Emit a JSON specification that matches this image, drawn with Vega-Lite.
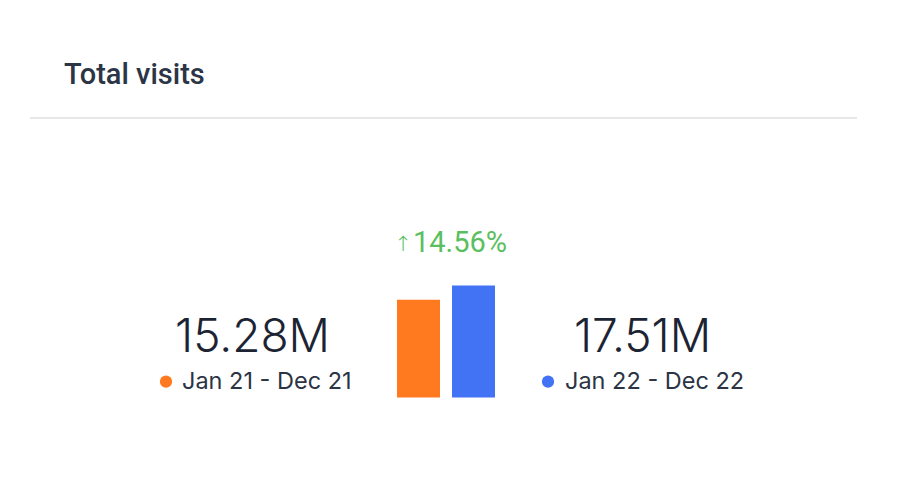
{
  "$schema": "https://vega.github.io/schema/vega-lite/v6.json",
  "autosize": "none",
  "width": 827,
  "height": 279.5,
  "padding": {"left": 30, "top": 118, "right": 44, "bottom": 82.5},
  "background": "white",
  "title": {
    "text": "Total visits",
    "anchor": "start",
    "frame": "group",
    "orient": "top",
    "dx": 34,
    "offset": 4,
    "baseline": "alphabetic",
    "font": "Roboto",
    "fontSize": 29,
    "fontWeight": 500,
    "color": "#2b3546"
  },
  "config": {"view": {"stroke": null}},
  "data": {
    "values": [
      {"period": "Jan 21 - Dec 21", "visits": 15280000, "change": null},
      {"period": "Jan 22 - Dec 22", "visits": 17510000, "change": 0.1456}
    ]
  },
  "encoding": {
    "x": {
      "field": "period",
      "type": "nominal",
      "sort": null,
      "scale": {"range": [361, 471], "paddingInner": 0.218, "paddingOuter": 0.109},
      "axis": null
    }
  },
  "layer": [
    {
      "mark": {"type": "bar"},
      "encoding": {
        "y": {"field": "visits", "type": "quantitative", "scale": {"domain": [0, 43700000], "nice": false}, "axis": null},
        "color": {"field": "period", "type": "nominal", "scale": {"range": ["#ff7a1f", "#4273f5"]}, "legend": null}
      }
    },
    {
      "transform": [{"filter": "datum.change != null"}],
      "mark": {"type": "rule", "color": "#dedfe1", "strokeWidth": 1.5},
      "encoding": {"x": {"value": 0}, "x2": {"value": "width"}, "y": {"datum": 43700000, "type": "quantitative"}}
    },
    {
      "transform": [{"filter": "datum.period === 'Jan 21 - Dec 21'"}],
      "layer": [
        {
          "mark": {"type": "text", "align": "center", "baseline": "alphabetic", "dx": -166, "dy": -45.8, "font": "Inter", "fontSize": 46, "fontWeight": 300, "color": "#1c2434"},
          "encoding": {"y": {"datum": 0, "type": "quantitative"}, "text": {"field": "visits", "format": ".4s"}}
        },
        {
          "mark": {"type": "text", "align": "left", "baseline": "alphabetic", "dx": -236.5, "dy": -9, "font": "Inter", "fontSize": 23.5, "color": "#2c3444"},
          "encoding": {"y": {"datum": 0, "type": "quantitative"}, "text": {"field": "period"}}
        },
        {
          "mark": {"type": "point", "filled": true, "opacity": 1, "size": 150, "shape": "circle", "xOffset": -252.5, "yOffset": -15.8},
          "encoding": {"y": {"datum": 0, "type": "quantitative"}, "color": {"field": "period", "type": "nominal", "legend": null}}
        }
      ]
    },
    {
      "transform": [{"filter": "datum.period === 'Jan 22 - Dec 22'"}],
      "layer": [
        {
          "mark": {"type": "text", "align": "center", "baseline": "alphabetic", "dx": 169, "dy": -45.8, "font": "Inter", "fontSize": 46, "fontWeight": 300, "color": "#1c2434"},
          "encoding": {"y": {"datum": 0, "type": "quantitative"}, "text": {"field": "visits", "format": ".4s"}}
        },
        {
          "mark": {"type": "text", "align": "left", "baseline": "alphabetic", "dx": 91.5, "dy": -9, "font": "Inter", "fontSize": 23.5, "color": "#2c3444"},
          "encoding": {"y": {"datum": 0, "type": "quantitative"}, "text": {"field": "period"}}
        },
        {
          "mark": {"type": "point", "filled": true, "opacity": 1, "size": 150, "shape": "circle", "xOffset": 74.5, "yOffset": -15.8},
          "encoding": {"y": {"datum": 0, "type": "quantitative"}, "color": {"field": "period", "type": "nominal", "legend": null}}
        },
        {
          "mark": {"type": "text", "align": "left", "baseline": "alphabetic", "dx": -60.5, "dy": -145.8, "font": "Roboto", "fontSize": 29, "color": "#5abf5e"},
          "encoding": {"y": {"datum": 0, "type": "quantitative"}, "text": {"field": "change", "format": ".2%"}}
        },
        {
          "mark": {"type": "text", "align": "left", "baseline": "alphabetic", "dx": -79, "dy": -146.5, "font": "DejaVu Sans", "fontSize": 21, "fontWeight": 300, "color": "#5abf5e", "text": "↑"},
          "encoding": {"y": {"datum": 0, "type": "quantitative"}}
        }
      ]
    }
  ]
}
